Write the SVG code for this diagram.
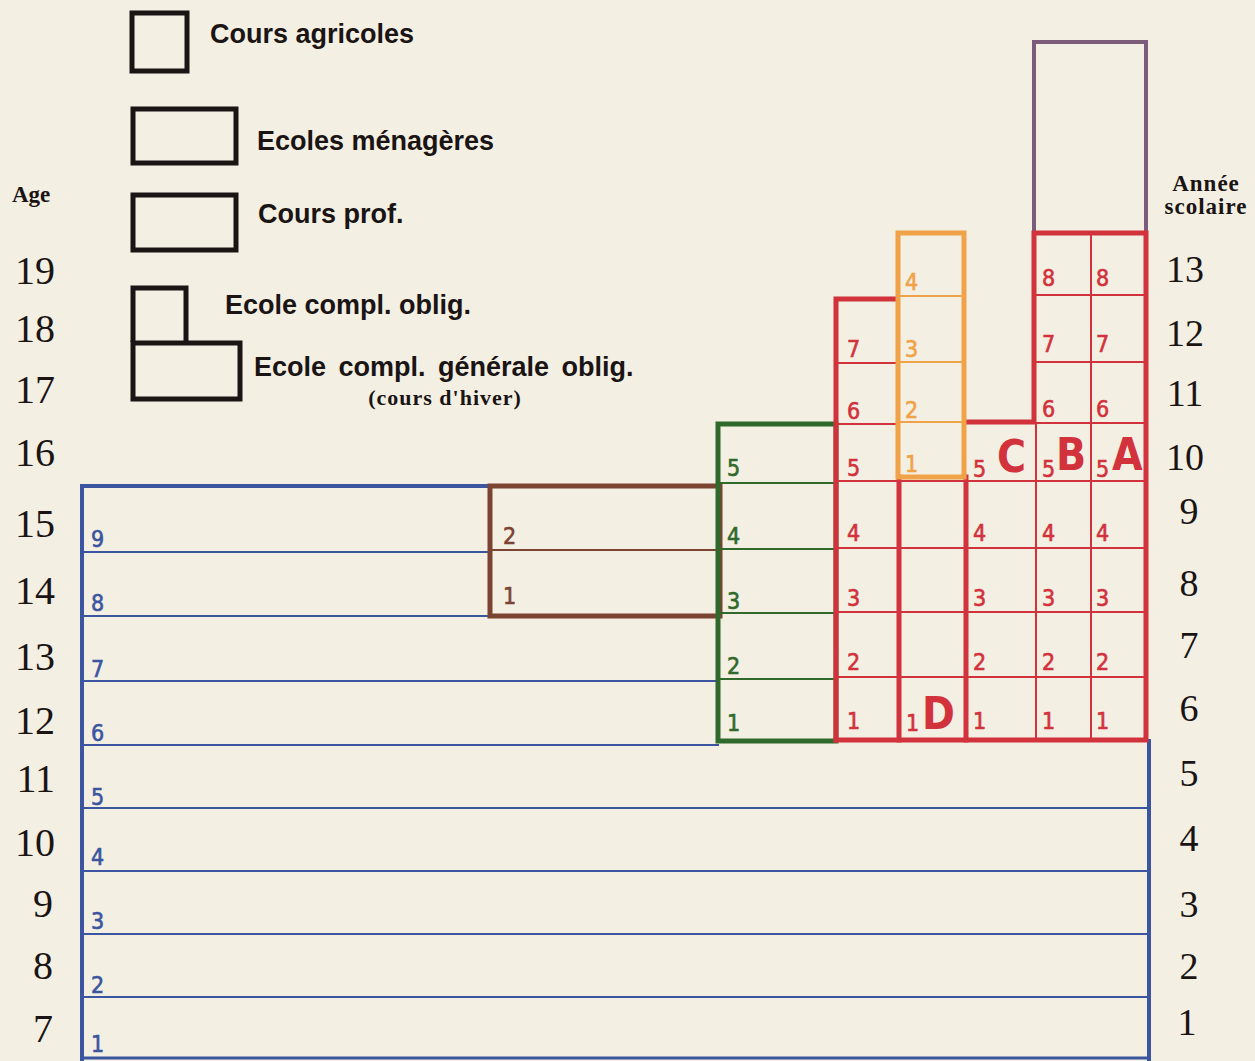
<svg xmlns="http://www.w3.org/2000/svg" width="1255" height="1061" viewBox="0 0 1255 1061">
<style>
.bg{fill:#f3efe2}
.box{fill:none;stroke-linejoin:miter;stroke-linecap:square}
.leg{fill:none;stroke:#1a1414;stroke-width:5}
.legt{font-family:"Liberation Sans",Arial,sans-serif;font-weight:bold;font-size:27px;fill:#1a1414}
.serifb{font-family:"Liberation Serif","DejaVu Serif",serif;font-weight:bold;font-size:23px;fill:#1a1414}
.axis{font-family:"Liberation Serif","DejaVu Serif",serif;font-size:40px;fill:#1a1414}
.num{font-family:"Liberation Sans Narrow","DejaVu Sans Condensed","Liberation Sans",sans-serif;font-size:23px;stroke-width:0.6}
.big{font-family:"Liberation Sans Narrow","DejaVu Sans Condensed","Liberation Sans",sans-serif;font-size:44px;font-weight:bold;fill:#d2323c}
.blue{stroke:#3b55a0}
.red{stroke:#d2323c}
.green{stroke:#2f6a2c}
.brown{stroke:#7b4332}
.orange{stroke:#f0a248}
.purple{stroke:#7c5c7a}
.thin{stroke-width:2}
.thick{stroke-width:5}
.tb{fill:#3b55a0;stroke:#3b55a0}.tr{fill:#d2323c;stroke:#d2323c}.tg{fill:#2f6a2c;stroke:#2f6a2c}.tbr{fill:#7b4332;stroke:#7b4332}.to{fill:#f0a248;stroke:#f0a248}
</style>
<rect class="bg" x="0" y="0" width="1255" height="1061"/>

<g id="legend">
  <g id="leg-agricoles"><rect class="leg" x="132" y="13" width="55" height="58"/><text class="legt" x="210" y="43">Cours agricoles</text></g>
  <g id="leg-menageres"><rect class="leg" x="133" y="109" width="103" height="54"/><text class="legt" x="257" y="150">Ecoles ménagères</text></g>
  <g id="leg-prof"><rect class="leg" x="133" y="195" width="103" height="55"/><text class="legt" x="258" y="223">Cours prof.</text></g>
  <g id="leg-compl"><path class="leg" d="M133,342 V288 H186 V342"/><text class="legt" x="225" y="314">Ecole compl. oblig.</text></g>
  <g id="leg-compl-gen"><rect class="leg" x="133" y="343" width="107" height="56"/><text class="legt" x="254" y="376" style="word-spacing:5px">Ecole compl. générale oblig.</text><text class="serifb" x="445" y="405" text-anchor="middle" style="font-size:22px;letter-spacing:1px">(cours d'hiver)</text></g>
</g>

<g id="axis-age">
  <text class="serifb" x="12" y="202">Age</text>
  <g class="axis" text-anchor="end">
    <text x="55" y="284">19</text><text x="55" y="342">18</text><text x="55" y="403">17</text><text x="55" y="466">16</text>
    <text x="55" y="537">15</text><text x="55" y="604">14</text><text x="55" y="670">13</text><text x="55" y="734">12</text>
    <text x="55" y="792">11</text><text x="55" y="856">10</text><text x="53" y="917">9</text><text x="53" y="979">8</text><text x="53" y="1042">7</text>
  </g>
</g>

<g id="axis-annee">
  <text class="serifb" x="1206" y="191" text-anchor="middle" style="letter-spacing:1px">Année</text>
  <text class="serifb" x="1206" y="214" text-anchor="middle" style="letter-spacing:1px">scolaire</text>
  <g class="axis" text-anchor="middle" style="font-size:38px">
    <text x="1185" y="282">13</text><text x="1185" y="346">12</text><text x="1185" y="406">11</text><text x="1185" y="470">10</text>
    <text x="1189" y="524">9</text><text x="1189" y="596">8</text><text x="1189" y="658">7</text><text x="1189" y="721">6</text>
    <text x="1189" y="786">5</text><text x="1189" y="851">4</text><text x="1189" y="917">3</text><text x="1189" y="979">2</text><text x="1187" y="1035">1</text>
  </g>
</g>

<g id="connectors">
</g>

<g id="ecole-primaire">
  <g class="box blue thin">
    <line x1="82" y1="552" x2="490" y2="552"/>
    <line x1="82" y1="616" x2="490" y2="616"/>
    <line x1="82" y1="681" x2="718" y2="681"/>
    <line x1="82" y1="745" x2="718" y2="745"/>
    <line x1="82" y1="808" x2="1149" y2="808"/>
    <line x1="82" y1="871" x2="1149" y2="871"/>
    <line x1="82" y1="934" x2="1149" y2="934"/>
    <line x1="82" y1="997" x2="1149" y2="997"/>
  </g>
  <path class="box blue" style="stroke-width:4" d="M82,1061 V486 H490"/>
  <path class="box blue" style="stroke-width:4" d="M1149,741 V1061"/>
  <line class="box blue" style="stroke-width:3" x1="82" y1="1058" x2="1149" y2="1058"/>
  <g class="num tb">
    <text x="91" y="547">9</text><text x="91" y="611">8</text><text x="91" y="677">7</text><text x="91" y="741">6</text>
    <text x="91" y="805">5</text><text x="91" y="865">4</text><text x="91" y="929">3</text><text x="91" y="993">2</text><text x="91" y="1052">1</text>
  </g>
</g>

<g id="cours-brun">
  <line class="box brown thin" x1="490" y1="550" x2="720" y2="550"/>
  <rect class="box brown thick" x="490" y="486" width="230" height="130"/>
  <g class="num tbr"><text x="503" y="544">2</text><text x="503" y="604">1</text></g>
</g>

<g id="cours-vert">
  <g class="box green thin">
    <line x1="718" y1="483" x2="836" y2="483"/>
    <line x1="718" y1="549" x2="836" y2="549"/>
    <line x1="718" y1="613" x2="836" y2="613"/>
    <line x1="718" y1="679" x2="836" y2="679"/>
  </g>
  <rect class="box green thick" x="718" y="424" width="118" height="317"/>
  <g class="num tg"><text x="727" y="476">5</text><text x="727" y="544">4</text><text x="727" y="609">3</text><text x="727" y="674">2</text><text x="727" y="731">1</text></g>
</g>

<g id="purple-box">
  <rect class="box purple" style="stroke-width:4" x="1034" y="42" width="112" height="191"/>
</g>

<g id="red-block">
  <g class="box red thin">
    <line x1="836" y1="363" x2="897" y2="363"/>
    <line x1="836" y1="424" x2="897" y2="424"/>
    <line x1="836" y1="481" x2="1146" y2="481"/>
    <line x1="836" y1="548" x2="1146" y2="548"/>
    <line x1="836" y1="612" x2="1146" y2="612"/>
    <line x1="836" y1="677" x2="1146" y2="677"/>
    <line x1="1036" y1="295" x2="1146" y2="295"/>
    <line x1="1036" y1="362" x2="1146" y2="362"/>
    <line x1="1036" y1="423" x2="1146" y2="423"/>
    <line x1="1036" y1="423" x2="1036" y2="740"/>
    <line x1="1091" y1="233" x2="1091" y2="740"/>
  </g>
  <g class="box red thick">
    <line x1="899" y1="477" x2="899" y2="740"/>
    <line x1="966" y1="477" x2="966" y2="740"/>
    <path d="M836,740 V299 H897"/>
    <path d="M965,422 H1034 V233 H1146 V740 H836"/>
  </g>
  <g class="num tr">
    <text x="847" y="357">7</text><text x="847" y="419">6</text><text x="847" y="476">5</text><text x="847" y="541">4</text><text x="847" y="606">3</text><text x="847" y="670">2</text><text x="847" y="729">1</text>
    <text x="906" y="731">1</text>
    <text x="973" y="477">5</text><text x="973" y="541">4</text><text x="973" y="606">3</text><text x="973" y="670">2</text><text x="973" y="729">1</text>
    <text x="1042" y="286">8</text><text x="1042" y="352">7</text><text x="1042" y="417">6</text><text x="1042" y="477">5</text><text x="1042" y="541">4</text><text x="1042" y="606">3</text><text x="1042" y="670">2</text><text x="1042" y="729">1</text>
    <text x="1096" y="286">8</text><text x="1096" y="352">7</text><text x="1096" y="417">6</text><text x="1096" y="477">5</text><text x="1096" y="541">4</text><text x="1096" y="606">3</text><text x="1096" y="670">2</text><text x="1096" y="729">1</text>
  </g>
  <text class="big" x="922" y="729">D</text>
  <text class="big" x="997" y="472">C</text>
  <text class="big" x="1056" y="470">B</text>
  <text class="big" x="1112" y="470">A</text>
</g>

<g id="cours-orange">
  <g class="box orange thin">
    <line x1="897" y1="296" x2="965" y2="296"/>
    <line x1="897" y1="362" x2="965" y2="362"/>
    <line x1="897" y1="422" x2="965" y2="422"/>
  </g>
  <rect class="box orange thick" x="898" y="233" width="66" height="244"/>
  <g class="num to"><text x="905" y="290">4</text><text x="905" y="357">3</text><text x="905" y="418">2</text><text x="905" y="472">1</text></g>
</g>
</svg>
